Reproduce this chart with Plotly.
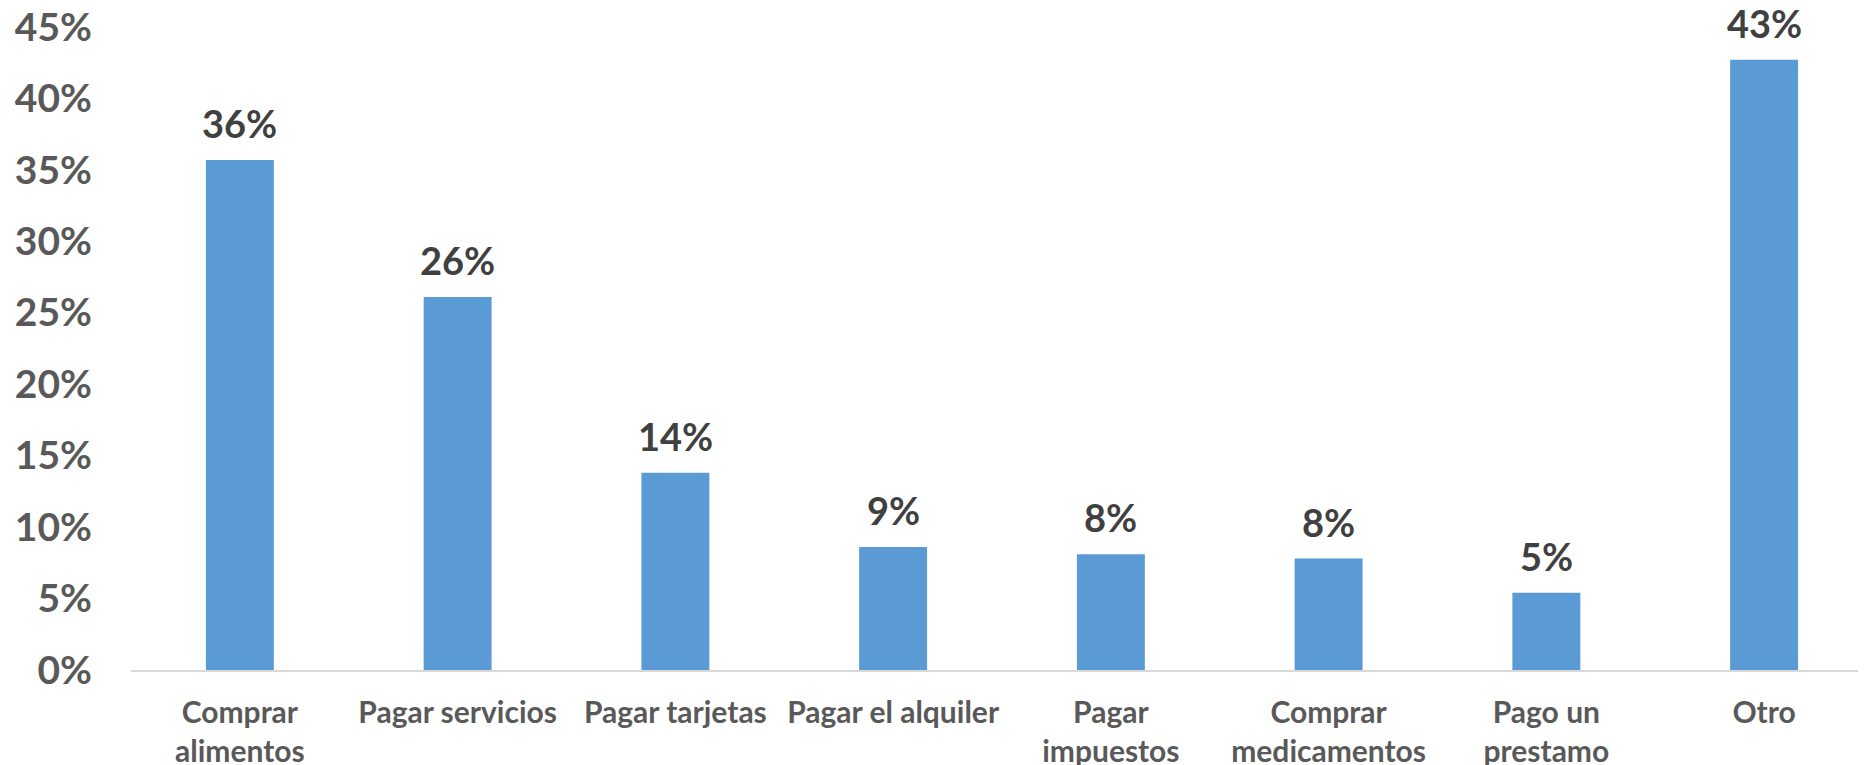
import plotly.graph_objects as go

categories = ["Comprar<br>alimentos", "Pagar servicios", "Pagar tarjetas", "Pagar el alquiler",
              "Pagar<br>impuestos", "Comprar<br>medicamentos", "Pago un<br>prestamo", "Otro"]
values = [0.357, 0.261, 0.138, 0.086, 0.081, 0.078, 0.054, 0.427]
labels = ["36%", "26%", "14%", "9%", "8%", "8%", "5%", "43%"]

FONT = "Lato"

fig = go.Figure()
fig.add_trace(go.Bar(
    x=list(range(len(categories))), y=values,
    marker=dict(color="#5B9BD5", line=dict(width=0)),
    hoverinfo="skip",
))

for i, (v, t) in enumerate(zip(values, labels)):
    fig.add_annotation(
        x=i, y=v, text=t, showarrow=False, xref="x", yref="y",
        yanchor="bottom", yshift=12,
        font=dict(family=FONT, size=38, color="#404040", weight="bold"),
    )

fig.update_layout(
    width=1866, height=765,
    margin=dict(l=123, r=8, t=19, b=103, autoexpand=False),
    paper_bgcolor="white", plot_bgcolor="white",
    bargap=0.688,
    showlegend=False,
    xaxis=dict(
        range=[-0.5, 7.468], automargin=False,
        tickmode="array", tickvals=list(range(len(categories))), ticktext=categories,
        showgrid=False, zeroline=False,
        showline=True, linecolor="#D9D9D9", linewidth=2,
        ticks="", ticklabelstandoff=15, ticklabeloverflow="allow",
        tickfont=dict(family=FONT, size=30, color="#595959", weight="bold"),
    ),
    yaxis=dict(
        range=[0, 0.45], dtick=0.05, tickformat=".0%", automargin=False,
        showgrid=False, zeroline=False, showline=False,
        ticks="", ticklabelstandoff=38, ticklabeloverflow="allow",
        tickfont=dict(family=FONT, size=39, color="#595959", weight="bold"),
    ),
)

fig.write_html("out.html")
